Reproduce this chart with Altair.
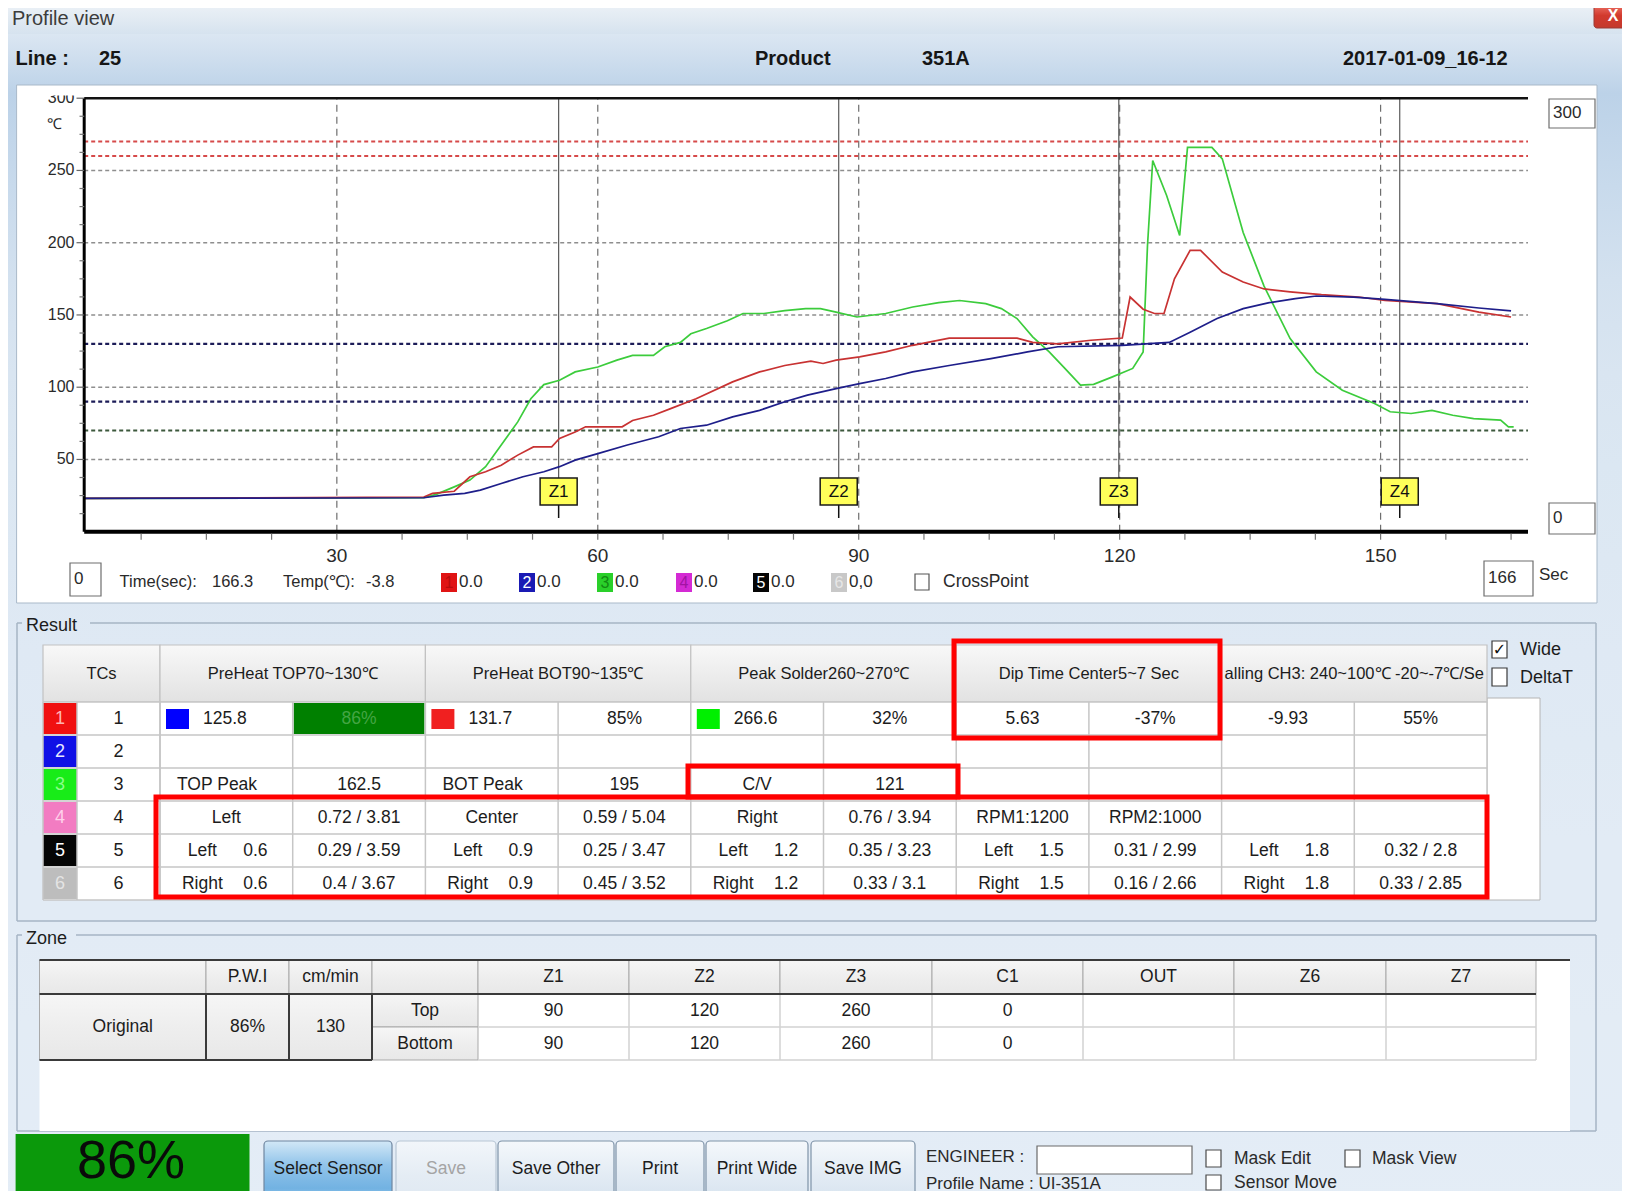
import altair as alt
import pandas as pd

# ---------------- values ----------------
LINE_NO = "25"
PRODUCT = "351A"
RUN_STAMP = "2017-01-09_16-12"

TC1_TIME = [1, 40, 41, 43.5, 45.3, 47.1, 48.9, 50.8, 52.6, 54.7, 55.6, 57.4, 58.6, 62.8, 64, 66.4, 68.3, 71.3, 75.5, 78.6,
            81.5, 84.5, 85.9, 87.4, 90.1, 93.1, 96.2, 100.4, 108.2, 110, 112.9, 116.7, 120.3, 121.2, 122.7, 124, 125.1,
            126.3, 128.1, 129.3, 131.8, 134.2, 136.6, 139.6, 143.2, 147.5, 150.5, 156.5, 161.3, 165]
TC1_TEMP = [23, 24, 26.5, 28, 38, 41.5, 46, 53, 58.7, 58.7, 64.5, 69, 72.6, 72.6, 77, 80.6, 85, 92, 103.7, 110.6,
            115, 118, 116.4, 118.7, 121, 124.4, 129, 134, 134, 131, 130, 132.5, 134, 162.4, 154, 151, 151,
            175, 194.7, 194.7, 179.7, 172.8, 168, 166, 164, 162.4, 160, 157.8, 152, 148.6]

TC2_TIME = [1, 40, 42.3, 44.7, 46.5, 48.9, 51.4, 53.8, 55.6, 57.4, 60, 63.4, 67, 69.5, 72.5, 75.5, 78.6, 81.5, 84.1,
            87.4, 90.1, 93.1, 96.2, 100.4, 105.2, 109.4, 112.9, 120.3, 125.7, 128.1, 131.2, 134.2, 137.2, 140.2,
            142.6, 146.9, 150.5, 156.5, 161.3, 165]
TC2_TEMP = [23, 23.5, 25.3, 26.5, 28.8, 33.4, 38, 41.5, 45, 49.5, 54, 60, 65.7, 71.4, 73.7, 79.5, 84, 89.9, 94.5,
            99, 102.5, 106, 110.6, 115, 119.8, 124.4, 128, 129, 131, 138, 147.5, 154.4, 158.5, 161.3,
            163.1, 162.4, 160.8, 157.8, 154.8, 152.8]

TC3_TIME = [1, 40, 41.5, 43.5, 45.3, 47.1, 48.9, 50.8, 52.3, 53.8, 55.6, 57.4, 60, 62.2, 64, 66.4, 67.7, 69.5, 70.7,
            72.5, 74.9, 76.7, 79.1, 81.5, 83.9, 85.6, 87.4, 89.8, 93.1, 96.2, 99.2, 101.6, 104.6, 106.4, 108.2, 110,
            111.9, 113.7, 115.5, 117, 119.1, 121.5, 122.7, 123.2, 123.8, 125.4, 126.9, 127.8, 130.6, 131.8, 134.2,
            136.6, 139.6, 142.6, 145.6, 149.3, 151.1, 153.5, 155.9, 158.3, 160.7, 163.8, 164.7, 165.3]
TC3_TEMP = [23, 23.5, 26, 31, 35.7, 45, 60, 76, 92, 101.8, 104.8, 110.6, 114, 118.7, 122, 122, 128, 131, 137,
            140.6, 146, 151, 151, 153, 154.4, 154.4, 152, 148.6, 151, 155.5, 158.5, 160, 157.8, 154.4, 147.5, 134.8,
            124.4, 113, 101.4, 102, 107, 113, 124.4, 198, 256.9, 232.7, 205, 266, 266, 258, 207,
            170, 133.6, 110.6, 97.9, 88.7, 83, 81.8, 84, 80.6, 78.3, 77.2, 72.6, 72.6]

X_TICKS = [30, 60, 90, 120, 150]
X_MINOR = [7.5, 15, 22.5, 30, 37.5, 45, 52.5, 60, 67.5, 75, 82.5, 90, 97.5, 105, 112.5, 120, 127.5, 135,
           142.5, 150, 157.5, 165]
Y_TICKS = [50, 100, 150, 200, 250, 300]
Y_GRID = [50, 100, 150, 200, 250]
Y_MINOR = [12.5, 25, 37.5, 62.5, 75, 87.5, 112.5, 125, 137.5, 162.5, 175, 187.5, 212.5, 225, 237.5, 262.5,
           275, 287.5]
LIMITS_RED = [270, 260]
LIMITS_BLUE = [130, 90]
LIMITS_GREEN = [70]
ZONE_NAMES = ["Z1", "Z2", "Z3", "Z4"]
ZONE_TIMES = [55.5, 87.7, 119.9, 152.2]

CURSOR_TIME = "166.3"
CURSOR_TEMP = "-3.8"
LEGEND_IDS = ["1", "2", "3", "4", "5", "6"]
LEGEND_VALS = ["0.0", "0.0", "0.0", "0.0", "0.0", "0,0"]
RANGE_TOP, RANGE_BOTTOM, TIME_FROM, TIME_TO = "300", "0", "0", "166"

RESULT_HEADERS = ["PreHeat TOP70~130℃", "PreHeat BOT90~135℃", "Peak Solder260~270℃",
                  "Dip Time Center5~7 Sec", "alling CH3: 240~100℃ -20~-7℃/Se"]
SENSOR_IDS = ["1", "2", "3", "4", "5", "6"]
RESULT_ROWS = [
    ["125.8", "86%", "131.7", "85%", "266.6", "32%", "5.63", "-37%", "-9.93", "55%"],
    ["", "", "", "", "", "", "", "", "", ""],
    ["TOP Peak", "162.5", "BOT Peak", "195", "C/V", "121", "", "", "", ""],
    ["Left", "0.72 / 3.81", "Center", "0.59 / 5.04", "Right", "0.76 / 3.94", "RPM1:1200", "RPM2:1000", "", ""],
    ["Left 0.6", "0.29 / 3.59", "Left 0.9", "0.25 / 3.47", "Left 1.2", "0.35 / 3.23", "Left 1.5",
     "0.31 / 2.99", "Left 1.8", "0.32 / 2.8"],
    ["Right 0.6", "0.4 / 3.67", "Right 0.9", "0.45 / 3.52", "Right 1.2", "0.33 / 3.1", "Right 1.5",
     "0.16 / 2.66", "Right 1.8", "0.33 / 2.85"],
]

ZONE_HEADERS = ["", "P.W.I", "cm/min", "", "Z1", "Z2", "Z3", "C1", "OUT", "Z6", "Z7"]
ZONE_TOP = ["90", "120", "260", "0", "", "", ""]
ZONE_BOTTOM = ["90", "120", "260", "0", "", "", ""]
ZONE_META = ["Original", "86%", "130"]
ZONE_SIDES = ["Top", "Bottom"]
SCORE = "86%"
BUTTONS = ["Select Sensor", "Save", "Save Other", "Print", "Print Wide", "Save IMG"]
PROFILE_NAME = "UI-351A"

# ---------------- layout / style ----------------
FN = "'Liberation Sans', Arial, sans-serif"
FR = "'Liberation Sans', Arial, sans-serif"
TXT = "#1c1c1c"
M = 8
W, H = 1614, 1183
PXS = alt.Scale(domain=[M, M + W], range=[0, W], nice=False, zero=False)
PYS = alt.Scale(domain=[M, M + H], range=[0, H], nice=False, zero=False)

X0, SEC = 75.9, 8.698
PL_L, PL_R, PL_T, PL_B = 84.2, 1528.0, 98.2, 531.7
TX = alt.Scale(domain=[0, 170], range=[X0 - M, X0 + 170 * SEC - M], nice=False, zero=False)
TY = alt.Scale(domain=[0, 300], range=[PL_B - M, PL_T - M], nice=False, zero=False)
T_LO = (PL_L - X0) / SEC
T_HI = (PL_R - X0) / SEC


def px(f):
    return alt.X(f + ":Q", scale=PXS, axis=None)


def py(f):
    return alt.Y(f + ":Q", scale=PYS, axis=None)


def tx(f):
    return alt.X(f + ":Q", scale=TX, axis=None)


def ty(f):
    return alt.Y(f + ":Q", scale=TY, axis=None)


def grad(*stops):
    n = len(stops) - 1
    return {"gradient": "linear", "x1": 0, "y1": 0, "x2": 0, "y2": 1,
            "stops": [{"offset": i / n, "color": c} for i, c in enumerate(stops)]}


def rects(rows, **mark):
    df = pd.DataFrame(rows, columns=["x", "x2", "y", "y2"])
    return alt.Chart(df).mark_rect(**mark).encode(x=px("x"), x2="x2:Q", y=py("y"), y2="y2:Q")


def rects_c(rows, **mark):
    df = pd.DataFrame(rows, columns=["x", "x2", "y", "y2", "f"])
    return alt.Chart(df).mark_rect(**mark).encode(x=px("x"), x2="x2:Q", y=py("y"), y2="y2:Q",
                                                  fill=alt.Fill("f:N", scale=None))


def rules(rows, color, width, **mark):
    df = pd.DataFrame(rows, columns=["x", "x2", "y", "y2"])
    return alt.Chart(df).mark_rule(color=color, strokeWidth=width, **mark).encode(
        x=px("x"), x2="x2:Q", y=py("y"), y2="y2:Q")


def texts(rows, size, color=TXT, align="left", font=FN, weight="normal", **mark):
    df = pd.DataFrame(rows, columns=["x", "y", "t"])
    return alt.Chart(df).mark_text(align=align, baseline="middle", font=font, fontSize=size,
                                   fontWeight=weight, color=color, **mark).encode(
        x=px("x"), y=py("y"), text="t:N")


def texts_c(rows, size, align="left", font=FN, weight="normal"):
    df = pd.DataFrame(rows, columns=["x", "y", "t", "c"])
    return alt.Chart(df).mark_text(align=align, baseline="middle", font=font, fontSize=size,
                                   fontWeight=weight).encode(
        x=px("x"), y=py("y"), text="t:N", color=alt.Color("c:N", scale=None))


L = []

# ---- window background and title bar ----
L.append(rects([(0, 1640, 0, 1210)], fill=grad("#edf2f8", "#bcd2e8", "#c8daec", "#d3e1ef", "#d9e5f1",
                                               "#dbe7f2", "#dde8f3", "#dfe9f4", "#e0eaf4", "#e2ebf5",
                                               "#e2ebf5", "#e3ecf5", "#e3ecf6", "#e4edf6")))
L.append(rects([(0, 1640, 0, 34)], fill=grad("#eef3f8", "#e3ebf3", "#d6e3ef")))
L.append(rects([(1594, 1640, 3, 28)], fill=grad("#f07a6e", "#d23a2e", "#c4392c"), stroke="#9a3a34",
               strokeWidth=1, cornerRadius=3))
L.append(texts([(1613, 16, "X")], 16, color="white", align="center", font=FR, weight="bold"))
L.append(texts([(12, 19, "Profile view")], 20, color="#3c3c3c", font=FR))
L.append(texts([(15.6, 59, "Line :"), (99, 59, LINE_NO), (755, 59, "Product"), (922, 59, PRODUCT),
                (1343, 59, RUN_STAMP)], 20, color="#161616", font=FR, weight="bold"))

# ---- chart panel ----
L.append(rects([(16.6, 1597, 85, 603)], fill="white", stroke="#a9b9c9", strokeWidth=1))

# vertical grid
L.append(alt.Chart(pd.DataFrame({"t": X_TICKS, "lo": 0, "hi": 300})).mark_rule(
    color="#6e6e6e", strokeWidth=1.2, strokeDash=[7, 5]).encode(x=tx("t"), y=ty("lo"), y2="hi:Q"))


def hlines(vals, color, width, dash):
    df = pd.DataFrame({"v": vals, "a": T_LO, "b": T_HI})
    return alt.Chart(df).mark_rule(color=color, strokeWidth=width, strokeDash=dash).encode(
        x=tx("a"), x2="b:Q", y=ty("v"))


L.append(hlines(Y_GRID, "#8e8e8e", 1.5, [4, 3]))
L.append(hlines(LIMITS_RED, "#d64a4a", 2, [4, 3]))
L.append(hlines(LIMITS_BLUE, "#1c1c58", 2.2, [4, 3]))
L.append(hlines(LIMITS_GREEN, "#3c583c", 2, [4, 3]))

# zone marker lines
L.append(alt.Chart(pd.DataFrame({"t": ZONE_TIMES, "a": PL_T, "b": 478})).mark_rule(
    color="#5a5a5a", strokeWidth=1.2).encode(x=tx("t"), y=py("a"), y2="b:Q"))


def curve(times, temps, color):
    df = pd.DataFrame({"t": times, "v": temps})
    return alt.Chart(df).mark_line(color=color, strokeWidth=1.7).encode(x=tx("t"), y=ty("v"))


L.append(curve(TC3_TIME, TC3_TEMP, "#3ccc3c"))
L.append(curve(TC1_TIME, TC1_TEMP, "#c83232"))
L.append(curve(TC2_TIME, TC2_TEMP, "#1e1e8a"))

# axes
L.append(alt.Chart(pd.DataFrame({"a": [T_LO], "b": [T_HI], "v": [0]})).mark_rule(
    color="black", strokeWidth=4).encode(x=tx("a"), x2="b:Q", y=ty("v")))
L.append(alt.Chart(pd.DataFrame({"a": [T_LO], "b": [T_HI], "v": [300]})).mark_rule(
    color="#111111", strokeWidth=2.5).encode(x=tx("a"), x2="b:Q", y=ty("v")))
L.append(alt.Chart(pd.DataFrame({"a": [T_LO], "lo": [0], "hi": [300]})).mark_rule(
    color="black", strokeWidth=3).encode(x=tx("a"), y=ty("lo"), y2="hi:Q"))
L.append(alt.Chart(pd.DataFrame({"t": X_MINOR, "a": PL_B + 2, "b": PL_B + 8})).mark_rule(
    color="#777777", strokeWidth=1.2).encode(x=tx("t"), y=py("a"), y2="b:Q"))
L.append(alt.Chart(pd.DataFrame({"v": Y_MINOR, "a": 79.5, "b": PL_L})).mark_rule(
    color="#777777", strokeWidth=1.2).encode(x=px("a"), x2="b:Q", y=ty("v")))
L.append(alt.Chart(pd.DataFrame({"v": Y_TICKS, "a": 76.5, "b": PL_L})).mark_rule(
    color="#666666", strokeWidth=1.2).encode(x=px("a"), x2="b:Q", y=ty("v")))
L.append(alt.Chart(pd.DataFrame({"v": Y_TICKS, "x": 74.5, "t": [str(v) for v in Y_TICKS]})).mark_text(
    align="right", baseline="middle", font=FR, fontSize=16, color="#2a2a2a").encode(
    x=px("x"), y=ty("v"), text="t:N"))
L.append(rects([(36, 82, 86, 95.5)], fill="white"))
L.append(texts([(47, 124, "℃")], 15, color="#2a2a2a", font=FR))
L.append(alt.Chart(pd.DataFrame({"t": X_TICKS, "y": 556, "s": [str(v) for v in X_TICKS]})).mark_text(
    align="center", baseline="middle", font=FR, fontSize=19, color="#2a2a2a").encode(
    x=tx("t"), y=py("y"), text="s:N"))

# zone marker boxes
zdf = pd.DataFrame({"t": ZONE_TIMES, "n": ZONE_NAMES, "ya": 478, "yb": 505, "yc": 518, "ym": 491.5})
L.append(alt.Chart(zdf).mark_rule(color="#111111", strokeWidth=1.5).encode(
    x=tx("t"), y=py("yb"), y2="yc:Q"))
L.append(alt.Chart(zdf).transform_calculate(a="datum.t - 2.13", b="datum.t + 2.13").mark_rect(
    fill="#ffff5a", stroke="#1a1a1a", strokeWidth=1.5).encode(x=tx("a"), x2="b:Q", y=py("ya"), y2="yb:Q"))
L.append(alt.Chart(zdf).mark_text(align="center", baseline="middle", font=FR, fontSize=17,
                                  color="#111111").encode(x=tx("t"), y=py("ym"), text="n:N"))

# range boxes and legend row
L.append(rects([(1549, 1595, 99, 128), (1549, 1595, 503, 534), (70, 101, 563, 596), (1484, 1533, 561, 596)],
               fill="white", stroke="#6e6e6e", strokeWidth=1.2))
L.append(texts([(1553, 113, RANGE_TOP), (1553, 518, RANGE_BOTTOM), (74, 579, TIME_FROM),
                (1488, 578, TIME_TO), (1539, 575, "Sec")], 17, color="#2a2a2a"))
L.append(texts([(119.5, 582, "Time(sec):"), (212, 582, CURSOR_TIME), (283, 582, "Temp(℃):"),
                (366, 582, CURSOR_TEMP)], 16.5, color="#2a2a2a"))
LEG_X = [441, 519, 597, 676, 753, 831]
LEG_FILL = ["#e01414", "#1a1ab4", "#2ad02a", "#d42ad4", "#050505", "#c8c8c8"]
LEG_TXT = ["#b80c0c", "#ffffff", "#128a12", "#a214a2", "#ffffff", "#e6e6e6"]
L.append(rects_c([(x, x + 16, 573, 592, f) for x, f in zip(LEG_X, LEG_FILL)]))
L.append(texts_c([(x + 8, 582.5, i, c) for x, i, c in zip(LEG_X, LEGEND_IDS, LEG_TXT)], 16,
                 align="center", font=FR))
L.append(texts([(x + 18, 582, v) for x, v in zip(LEG_X, LEGEND_VALS)], 17, color="#2a2a2a"))
L.append(rects([(915, 929, 574, 590)], fill="white", stroke="#555555", strokeWidth=1.2))
L.append(texts([(943, 582, "CrossPoint")], 17.5, color="#2a2a2a"))

# ---- Result group ----
GB = "#a6b5c5"
L.append(rules([(17, 22, 623, 623), (90, 1596, 623, 623), (17, 17, 623, 921), (1596, 1596, 623, 921),
                (17, 1596, 921, 921)], GB, 1.5))
L.append(texts([(26, 626, "Result")], 18))

RX = [160 + 132.7 * i for i in range(11)]
RY = [702 + 33 * j for j in range(7)]
RMID = [(RY[j] + RY[j + 1]) / 2 for j in range(6)]
L.append(rects([(1487, 1540, 698, 900)], fill="white", stroke="#b4b4b4", strokeWidth=1))
L.append(rects([(43, 160, 645, 702)] + [(RX[2 * k], RX[2 * k + 2], 645, 702) for k in range(5)],
               fill=grad("#f8f8f8", "#ededed", "#e2e2e2"), stroke="#c2c2c2", strokeWidth=1.2))
L.append(rects([(43, 1487, 702, 900)], fill="white"))
SENSOR_FILL = ["#f01010", "#1010e6", "#18ec18", "#f27cc2", "#050505", "#bdbdbd"]
SENSOR_TXT = ["#ffb4b4", "#e8e8ff", "#8cff8c", "#ffd0ea", "#ffffff", "#e4e4e4"]
L.append(rects_c([(43, 77, RY[j] + 1, RY[j + 1] - 1, SENSOR_FILL[j]) for j in range(6)]))
L.append(rects_c([(RX[1] + 1, RX[2] - 1, RY[0] + 1, RY[1] - 1, "#008000"),
                  (RX[0] + 6, RX[0] + 29, 709, 729, "#0000ff"),
                  (RX[2] + 6, RX[2] + 29, 709, 729, "#f02020"),
                  (RX[4] + 6, RX[4] + 29, 709, 729, "#00f000")]))
L.append(rules([(x, x, 702, 900) for x in [43, 77, 160] + RX] +
               [(43, 1487, y, y) for y in RY], "#c6c6c6", 1.5))
hdr = [(101.5, 673.5, "TCs")] + [((RX[2 * k] + RX[2 * k + 2]) / 2, 673.5, RESULT_HEADERS[k]) for k in range(5)]
L.append(texts(hdr, 16.5, align="center"))
L.append(texts_c([(60, RMID[j], SENSOR_IDS[j], SENSOR_TXT[j]) for j in range(6)], 18, align="center"))
L.append(texts([(118.5, RMID[j], SENSOR_IDS[j]) for j in range(6)], 18, align="center"))

left_cells, center_cells = [], []
for j, row in enumerate(RESULT_ROWS):
    for i, val in enumerate(row):
        if not val:
            continue
        mid = (RX[i] + RX[i + 1]) / 2
        if j == 0 and i in (0, 2, 4):
            left_cells.append((RX[i] + 43, RMID[j], val))
        elif j == 2 and i in (0, 2):
            left_cells.append((RX[i] + 17, RMID[j], val))
        elif j == 0 and i == 1:
            continue
        elif j in (4, 5) and i % 2 == 0:
            word, num = val.split(" ")
            center_cells.append((mid - 24, RMID[j], word))
            center_cells.append((mid + 29, RMID[j], num))
        else:
            center_cells.append((mid, RMID[j], val))
L.append(texts(left_cells, 17.5))
L.append(texts(center_cells, 17.5, align="center"))
L.append(texts([((RX[1] + RX[2]) / 2, RMID[0], RESULT_ROWS[0][1])], 17.5, color="#44a544", align="center"))

L.append(rects([(954, 1220, 641, 738), (688, 958, 766, 797), (156, 1487, 797, 897)],
               fill="white", fillOpacity=0, stroke="#ff0000", strokeWidth=5))
L.append(rects([(1492, 1507, 641, 658), (1492, 1507, 668, 686)], fill="white", stroke="#3a3a3a",
               strokeWidth=1.2))
L.append(texts([(1499.5, 650, "✓")], 16, color="#111111", align="center", font="DejaVu Sans", weight="bold"))
L.append(texts([(1520, 650, "Wide"), (1520, 678, "DeltaT")], 18))

# ---- Zone group ----
L.append(rules([(17, 22, 935, 935), (76, 1596, 935, 935), (17, 17, 935, 1131), (1596, 1596, 935, 1131),
                (17, 1596, 1131, 1131)], GB, 1.5))
L.append(texts([(26, 939, "Zone")], 18))
ZX = [39.5, 206, 289, 372, 478, 629, 780, 932, 1083, 1234, 1386, 1536]
L.append(rects([(39.5, 1570, 960, 1131)], fill="white"))
L.append(rects([(ZX[i], ZX[i + 1], 960, 994) for i in range(11)] +
               [(ZX[i], ZX[i + 1], 994, 1060) for i in range(3)] +
               [(ZX[3], ZX[4], 994, 1027), (ZX[3], ZX[4], 1027, 1060)],
               fill=grad("#f6f6f6", "#eeeeee", "#e8e8e8"), stroke="#a9a9a9", strokeWidth=1))
L.append(rules([(x, x, 994, 1060) for x in ZX[5:]] +
               [(ZX[4], ZX[11], 1027, 1027), (ZX[4], ZX[11], 1060, 1060)], "#d2d2d2", 1.5))
L.append(rules([(39.5, 1570, 960, 960), (39.5, ZX[11], 994, 994), (ZX[0], ZX[3], 1060, 1060),
                (ZX[1], ZX[1], 994, 1060), (ZX[2], ZX[2], 994, 1060), (ZX[3], ZX[3], 994, 1060)],
               "#3a3a3a", 2))
zt = [((ZX[i] + ZX[i + 1]) / 2, 977, ZONE_HEADERS[i]) for i in range(11) if ZONE_HEADERS[i]]
zt += [((ZX[i] + ZX[i + 1]) / 2, 1027, ZONE_META[i]) for i in range(3)]
zt += [((ZX[3] + ZX[4]) / 2, 1010.5, ZONE_SIDES[0]), ((ZX[3] + ZX[4]) / 2, 1043.5, ZONE_SIDES[1])]
zt += [((ZX[4 + i] + ZX[5 + i]) / 2, 1010.5, v) for i, v in enumerate(ZONE_TOP) if v]
zt += [((ZX[4 + i] + ZX[5 + i]) / 2, 1043.5, v) for i, v in enumerate(ZONE_BOTTOM) if v]
L.append(texts(zt, 17.5, align="center"))

# ---- bottom bar ----
L.append(rects([(15.6, 249.5, 1134, 1210)], fill="#0b990b"))
L.append(texts([(131, 1162, SCORE)], 54, color="#0a0a0a", align="center", font=FR))
BTN_X = [(264, 392), (396, 496), (498, 614), (616, 704), (706, 808), (811, 915)]
L.append(rects([BTN_X[0] + (1141, 1212)], fill=grad("#d2e8f6", "#92c4ea", "#72b2e2", "#b6def6"),
               stroke="#6f86a0", strokeWidth=1.2, cornerRadius=4))
L.append(rects([BTN_X[1] + (1141, 1212)], fill=grad("#f2f6fa", "#e4ecf4", "#dde7f1"),
               stroke="#b8c6d4", strokeWidth=1.2, cornerRadius=4))
L.append(rects([b + (1141, 1212) for b in BTN_X[2:]], fill=grad("#f4f8fb", "#e2ebf4", "#d2dfec"),
               stroke="#7f93a8", strokeWidth=1.2, cornerRadius=4))
L.append(texts([((a + b) / 2, 1169, t) for (a, b), t in zip(BTN_X, BUTTONS) if t != "Save"], 17.5,
               align="center"))
L.append(texts([((BTN_X[1][0] + BTN_X[1][1]) / 2, 1169, "Save")], 17.5, color="#a4a4a4", align="center"))
L.append(texts([(926, 1157, "ENGINEER :"), (926, 1183.5, "Profile Name : " + PROFILE_NAME)], 17,
               color="#2a2a2a"))
L.append(rects([(1037, 1192, 1146, 1174)], fill="white", stroke="#6a6a6a", strokeWidth=1.2))
L.append(rects([(1206, 1221, 1150, 1167), (1345, 1360, 1150, 1167), (1206, 1221, 1175, 1190)],
               fill="white", stroke="#4a4a4a", strokeWidth=1.2))
L.append(texts([(1234, 1159, "Mask Edit"), (1372, 1159, "Mask View"), (1234, 1183, "Sensor Move")], 17.5,
               color="#2a2a2a"))

chart = alt.layer(*L).resolve_scale(x="independent", y="independent").properties(
    width=W, height=H, autosize=alt.AutoSizeParams(type="none"), padding=0, background="#dce7f3"
).configure_view(stroke=None)

chart.save("out.html", embed_options={"renderer": "svg", "actions": False})
